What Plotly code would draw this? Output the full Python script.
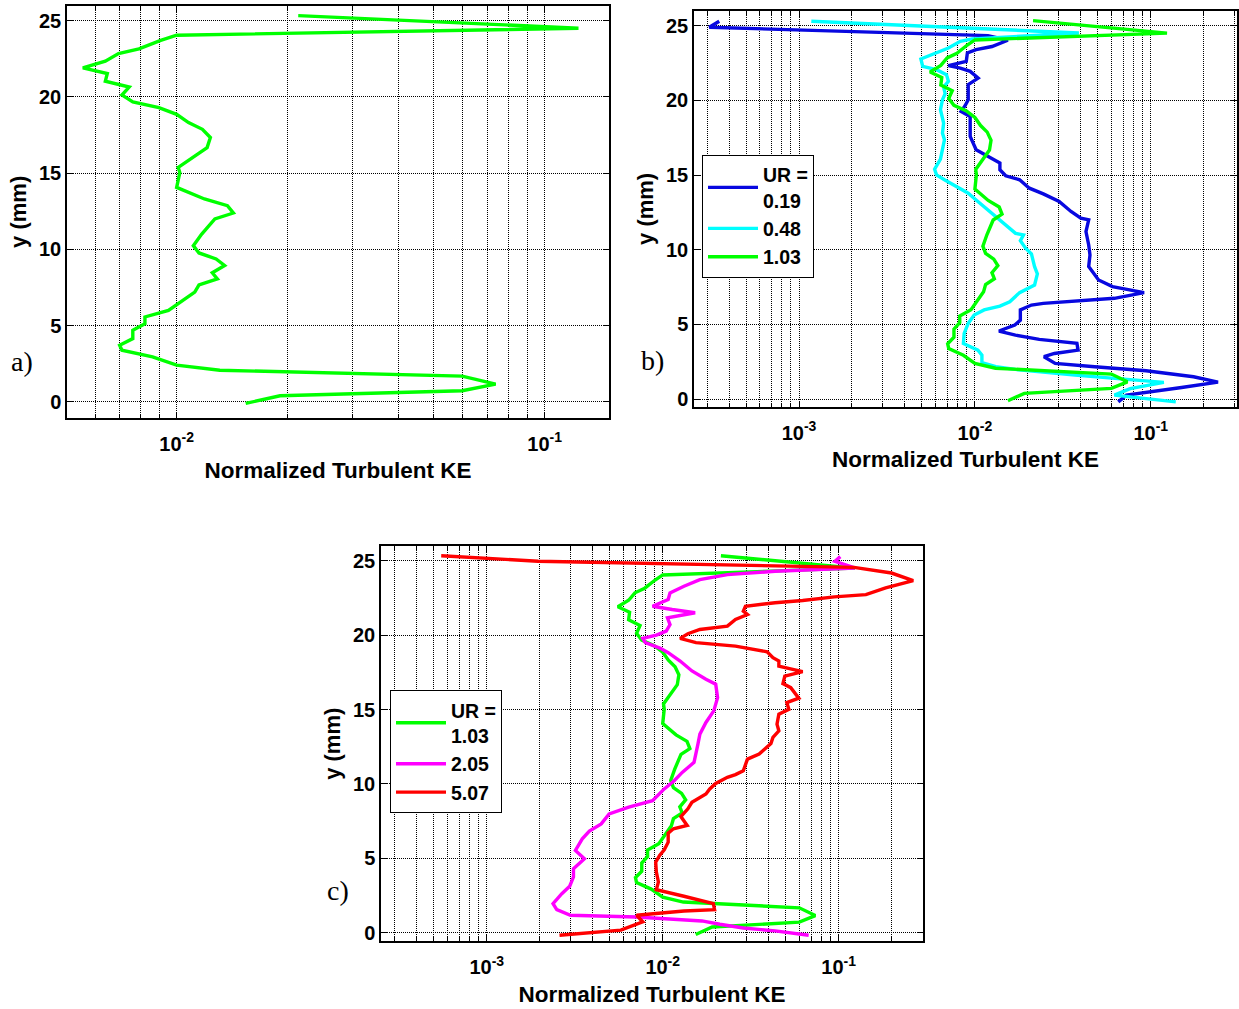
import plotly.graph_objects as go

W, H = 1239, 1009

# ---- normalized turbulent kinetic energy profiles, y in mm ----
# UR = 1.03 (drawn in all three panels)
ke_103 = [0.0214, 0.1236, 0.0100, 0.00905, 0.0079, 0.00695, 0.0064, 0.00556, 0.00648,
          0.0064, 0.00743, 0.0071, 0.0076, 0.00895, 0.0100, 0.01077, 0.01175, 0.01235,
          0.0121, 0.0112, 0.0101, 0.0102, 0.0100, 0.0119, 0.01374, 0.01426, 0.0127,
          0.0117, 0.0111, 0.0115, 0.0128, 0.0135, 0.0125, 0.0129, 0.0115, 0.0112,
          0.0095, 0.0082, 0.0082, 0.0076, 0.0076, 0.0070, 0.0071, 0.0086, 0.0100,
          0.0131, 0.0597, 0.0736, 0.0597, 0.0191, 0.0154]
y_103 = [25.33, 24.5, 24.04, 23.7, 23.15, 22.84, 22.34, 21.9, 21.53,
         21.03, 20.64, 20.12, 19.66, 19.29, 18.85, 18.31, 17.87, 17.33,
         16.67, 16.13, 15.37, 15.04, 14.06, 13.3, 12.86, 12.38, 11.99,
         11.0, 10.24, 9.76, 9.37, 8.94, 8.46, 8.06, 7.67, 7.19,
         5.99, 5.56, 5.12, 4.69, 4.14, 3.71, 3.38, 2.94, 2.40,
         2.07, 1.68, 1.16, 0.72, 0.39, -0.11]

# UR = 0.19
ke_019 = [3.52e-4, 3.09e-4, 0.01186, 0.01538, 0.0125, 0.01016, 0.00906, 0.00893, 0.00707,
          0.00826, 0.0094, 0.01043, 0.00916, 0.00916, 0.00879, 0.00834, 0.0094, 0.0094,
          0.01016, 0.01186, 0.01387, 0.01387, 0.01496, 0.01795, 0.0204, 0.02448, 0.03012,
          0.03518, 0.0400, 0.04435, 0.04279, 0.04435, 0.0451, 0.04435, 0.05046, 0.06052,
          0.07445, 0.09158, 0.06208, 0.04329, 0.02448, 0.02096, 0.01813, 0.01813, 0.01686,
          0.0137, 0.0170, 0.02322, 0.03012, 0.03802, 0.0386, 0.0283, 0.0247, 0.0286,
          0.04797, 0.0940, 0.175, 0.241, 0.1496, 0.0727, 0.0653]
y_019 = [25.29, 24.89, 24.33, 24.02, 23.6, 23.39, 23.17, 22.61, 22.32,
         22.16, 21.94, 21.49, 21.05, 20.04, 19.64, 19.26, 18.92, 17.58,
         16.69, 16.24, 15.80, 15.35, 14.95, 14.68, 14.12, 13.74, 13.23,
         12.56, 12.11, 12.0, 11.22, 10.32, 9.65, 8.87, 7.98, 7.53,
         7.31, 7.13, 6.75, 6.64, 6.41, 6.30, 5.97, 5.29, 4.96,
         4.56, 4.29, 4.0, 3.84, 3.73, 3.28, 3.06, 2.84, 2.39,
         2.17, 1.90, 1.50, 1.14, 0.78, 0.27, -0.18]

# UR = 0.48
ke_048 = [1.175e-3, 0.039, 0.00964, 0.00826, 0.00707, 0.00575, 0.00493, 0.00505, 0.00605,
          0.00689, 0.00707, 0.00664, 0.00677, 0.00654, 0.00637, 0.00664, 0.00654, 0.00671,
          0.00654, 0.00637, 0.0059, 0.00605, 0.00671, 0.00783, 0.00916, 0.01016, 0.01186,
          0.01459, 0.01703, 0.01888, 0.01813, 0.01941, 0.02096, 0.02184, 0.02265, 0.02184,
          0.01795, 0.01578, 0.01387, 0.01128, 0.0099, 0.00916, 0.00869, 0.0086, 0.0104,
          0.01096, 0.01096, 0.01315, 0.0170, 0.0371, 0.1186, 0.0763, 0.0621, 0.1387]
y_048 = [25.29, 24.51, 24.11, 23.95, 23.50, 23.06, 22.77, 22.27, 22.05,
         21.72, 21.27, 20.89, 20.44, 20.04, 19.37, 18.48, 17.81, 17.36,
         16.69, 16.06, 15.39, 15.01, 14.68, 14.23, 13.78, 13.33, 12.67,
         11.77, 11.10, 10.99, 10.61, 10.10, 9.72, 8.87, 8.38, 7.64,
         7.13, 6.52, 6.23, 5.97, 5.63, 5.07, 4.40, 3.73, 3.28,
         2.95, 2.44, 2.17, 1.99, 1.61, 1.12, 0.71, 0.27, -0.18]

# UR = 2.05
ke_205 = [0.1021, 0.0953, 0.1233, 0.0435, 0.0233, 0.01625, 0.0132, 0.0110, 0.01074,
          0.00875, 0.01132, 0.01528, 0.01064, 0.0110, 0.01047, 0.0092, 0.00769, 0.00797,
          0.0097, 0.01074, 0.01256, 0.01466, 0.0176, 0.0200, 0.0205, 0.0195, 0.0176,
          0.01626, 0.01585, 0.01545, 0.01506, 0.0129, 0.01162, 0.0102, 0.00875, 0.00641,
          0.00496, 0.00447, 0.00383, 0.00349, 0.00319, 0.00359, 0.00311, 0.00311, 0.00296,
          0.00267, 0.00238, 0.0025, 0.00299, 0.00711, 0.0167, 0.0211, 0.0287, 0.0435, 0.0675]
y_205 = [25.27, 24.96, 24.51, 24.29, 24.06, 23.73, 23.28, 22.83, 22.39,
         21.94, 21.72, 21.50, 21.16, 20.71, 20.27, 20.0, 19.78, 19.49,
         19.11, 18.82, 18.26, 17.59, 17.03, 16.70, 15.80, 14.91, 14.13,
         13.35, 12.68, 12.01, 11.45, 10.78, 10.22, 9.67, 8.88, 8.44,
         7.99, 7.32, 6.83, 6.32, 5.54, 4.98, 4.31, 3.75, 3.13,
         2.63, 1.96, 1.56, 1.18, 1.07, 0.80, 0.58, 0.33, 0.13, -0.16]

# UR = 5.07
ke_507 = [5.51e-4, 1.954e-3, 0.1222, 0.1995, 0.2651, 0.1848, 0.1427, 0.0944, 0.0624,
          0.0435, 0.0295, 0.0287, 0.0303, 0.0259, 0.0233, 0.0190, 0.01625, 0.0139,
          0.01256, 0.01545, 0.0200, 0.0259, 0.0392, 0.0423, 0.0457, 0.0457, 0.0548,
          0.0624, 0.0494, 0.0482, 0.0534, 0.0562, 0.0593, 0.0507, 0.0521, 0.0457,
          0.0446, 0.0457, 0.0423, 0.0412, 0.0353, 0.0303, 0.0295, 0.0287, 0.0259,
          0.0233, 0.0200, 0.0185, 0.0176, 0.01625, 0.01465, 0.0139, 0.01268, 0.01377,
          0.0115, 0.01074, 0.01074, 0.0102, 0.0096, 0.00912, 0.0092, 0.00945, 0.0092,
          0.0132, 0.0194, 0.0197, 0.0132, 0.0071, 0.0077, 0.00578, 0.00259]
y_507 = [25.33, 24.96, 24.55, 24.17, 23.66, 23.17, 22.72, 22.57, 22.32,
         22.17, 21.94, 21.61, 21.38, 21.05, 20.60, 20.49, 20.38, 20.09,
         19.78, 19.49, 19.38, 19.26, 18.88, 18.48, 18.26, 17.92, 17.70,
         17.54, 17.25, 16.74, 16.47, 16.14, 15.76, 15.47, 15.02, 14.69,
         14.02, 13.57, 13.13, 12.72, 12.01, 11.67, 11.29, 10.89, 10.63,
         10.45, 10.04, 9.67, 9.33, 9.06, 8.77, 8.33, 7.81, 7.21,
         6.99, 6.70, 6.09, 5.58, 5.20, 4.75, 4.08, 3.42, 2.90,
         2.46, 1.96, 1.56, 1.47, 1.18, 0.74, 0.18, -0.16]

GREEN, BLUE, CYAN, MAGENTA, RED = "#00FF00", "#0808E0", "#00FFFF", "#FF00FF", "#FF0000"
LW = 3.4

DECADES = [1e-3, 1e-2, 1e-1]
DECADE_TEXT = ["<b>10<sup>-3</sup></b>", "<b>10<sup>-2</sup></b>", "<b>10<sup>-1</sup></b>"]
Y_TICKS = [0, 5, 10, 15, 20, 25]

FONT = "Liberation Sans, Arial, sans-serif"

fig = go.Figure()


def line(x, y, color, name, xa, ya, legend=None, show=True):
    fig.add_trace(go.Scatter(
        x=x, y=y, mode="lines", name=name, xaxis=xa, yaxis=ya,
        line=dict(color=color, width=LW),
        showlegend=show, legend=legend,
    ))


# panel a
line(ke_103, y_103, GREEN, "1.03", "x", "y", show=False)
# panel b
line(ke_019, y_019, BLUE, "<b>UR =<br>0.19</b>", "x2", "y2", legend="legend")
line(ke_048, y_048, CYAN, "<b>0.48</b>", "x2", "y2", legend="legend")
line(ke_103, y_103, GREEN, "<b>1.03</b>", "x2", "y2", legend="legend")
# panel c
line(ke_103, y_103, GREEN, "<b>UR =<br>1.03</b>", "x3", "y3", legend="legend2")
line(ke_205, y_205, MAGENTA, "<b>2.05</b>", "x3", "y3", legend="legend2")
line(ke_507, y_507, RED, "<b>5.07</b>", "x3", "y3", legend="legend2")


def dom_x(l, r):
    return [l / W, r / W]


def dom_y(t, b):
    return [1 - b / H, 1 - t / H]


grid = dict(showgrid=True, gridcolor="black", gridwidth=1, griddash="1px,1px")


def xaxis(domain, rng, anchor):
    return dict(
        type="log", domain=domain, range=rng, anchor=anchor,
        tickmode="array", tickvals=DECADES, ticktext=DECADE_TEXT,
        ticks="inside", ticklen=6, tickcolor="black", ticklabelstandoff=7,
        showline=True, linecolor="black", linewidth=1.5, mirror="ticks",
        zeroline=False, tickfont=dict(family=FONT, size=20, color="black"),
        title=dict(text="<b>Normalized Turbulent KE</b>", standoff=9,
                   font=dict(family=FONT, size=22.5, color="black")),
        minor=dict(dtick="D1", ticks="inside", ticklen=4, tickcolor="black",
                   showgrid=True, gridcolor="black", gridwidth=1, griddash="1px,1px"),
        **grid,
    )


def yaxis(domain, rng, anchor):
    return dict(
        domain=domain, range=rng, anchor=anchor,
        tickmode="array", tickvals=Y_TICKS, ticktext=[f"<b>{v}</b>" for v in Y_TICKS],
        ticks="inside", ticklen=6, tickcolor="black",
        showline=True, linecolor="black", linewidth=1.5, mirror="ticks",
        zeroline=False, tickfont=dict(family=FONT, size=20, color="black"),
        title=dict(text="<b>y (mm)</b>", standoff=6,
                   font=dict(family=FONT, size=22, color="black")),
        **grid,
    )


legend_style = dict(
    xanchor="left", yanchor="top", bgcolor="white",
    bordercolor="black", borderwidth=1,
    font=dict(family=FONT, size=19.5, color="black"),
    itemwidth=50, valign="middle", tracegroupgap=0,
)

fig.update_layout(
    width=W, height=H, autosize=False,
    margin=dict(l=0, r=0, t=0, b=0),
    paper_bgcolor="white", plot_bgcolor="white",
    xaxis=xaxis(dom_x(67, 609), [-2.298, -0.825], "y"),
    yaxis=yaxis(dom_y(6, 419), [-1.05, 25.96], "x"),
    xaxis2=xaxis(dom_x(694, 1237), [-3.597, -0.510], "y2"),
    yaxis2=yaxis(dom_y(11, 408), [-0.51, 25.98], "x2"),
    xaxis3=xaxis(dom_x(381, 923), [-3.601, -0.521], "y3"),
    yaxis3=yaxis(dom_y(548, 944), [-0.56, 25.96], "x3"),
    legend=dict(x=702 / W, y=1 - 155 / H, **legend_style),
    legend2=dict(x=390 / W, y=1 - 692 / H, **legend_style),
)

# panel letters
for txt, px, py in [("a)", 22, 363), ("b)", 652, 362), ("c)", 338, 893)]:
    fig.add_annotation(
        text=txt, x=px / W, y=1 - py / H, xref="paper", yref="paper",
        showarrow=False, xanchor="center", yanchor="middle",
        font=dict(family="Liberation Serif, Times New Roman, serif", size=28, color="black"),
    )

fig.write_html("out.html")
